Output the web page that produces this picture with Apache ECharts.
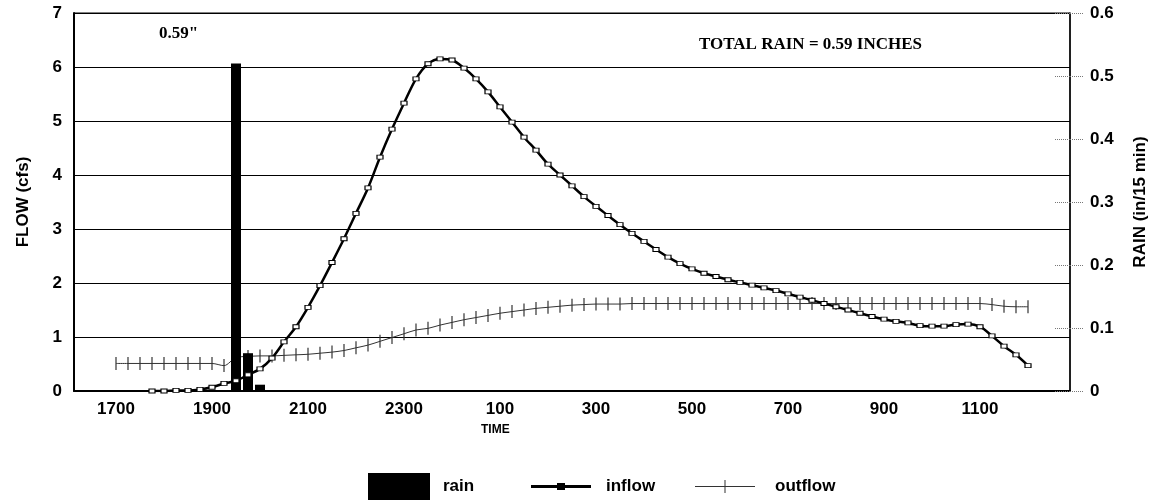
<!DOCTYPE html>
<html>
<head>
<meta charset="utf-8">
<script src="https://cdn.jsdelivr.net/npm/echarts@6/dist/echarts.min.js"></script>
<style>
  html, body { margin: 0; padding: 0; background: #fff; }
  #chart { width: 1162px; height: 503px; }
</style>
</head>
<body>
<div id="chart"></div>
<script>
// 15-minute time steps, 16:15 through 12:45 next day
var categories = [];
for (var i = 0; i < 83; i++) {
  var mins = (16 * 60 + 15 + i * 15) % (24 * 60);
  categories.push(String(Math.floor(mins / 60) * 100 + mins % 60));
}

var rainTimes = ['1930', '1945', '2000'];
var rainValues = [0.52, 0.06, 0.01];

// inflow starts at 17:45
var inflowStart = '1745';
var inflowValues = [
  0.00, 0.00, 0.01, 0.01, 0.03, 0.07, 0.14, 0.19, 0.30, 0.41,
  0.61, 0.91, 1.19, 1.55, 1.95, 2.38, 2.82, 3.29, 3.76, 4.33,
  4.85, 5.33, 5.78, 6.06, 6.15, 6.13, 5.98, 5.78, 5.54, 5.26,
  4.98, 4.70, 4.46, 4.20, 4.00, 3.80, 3.60, 3.42, 3.25, 3.08,
  2.92, 2.77, 2.62, 2.48, 2.36, 2.26, 2.18, 2.12, 2.06, 2.01,
  1.96, 1.91, 1.86, 1.80, 1.74, 1.68, 1.62, 1.56, 1.50, 1.44,
  1.38, 1.33, 1.29, 1.26, 1.21, 1.20, 1.20, 1.23, 1.24, 1.19,
  1.02, 0.83, 0.67, 0.47
];

// outflow starts at 17:00
var outflowStart = '1700';
var outflowValues = [
  0.51, 0.51, 0.51, 0.51, 0.51, 0.51, 0.51, 0.51, 0.51, 0.47,
  0.62, 0.64, 0.65, 0.65, 0.66, 0.67, 0.68, 0.70, 0.72, 0.75,
  0.80, 0.85, 0.92, 0.99, 1.06, 1.13, 1.16, 1.22, 1.27, 1.32,
  1.36, 1.40, 1.44, 1.47, 1.50, 1.53, 1.55, 1.57, 1.59, 1.60,
  1.61, 1.61, 1.61, 1.62, 1.62, 1.62, 1.62, 1.62, 1.62, 1.62,
  1.62, 1.62, 1.62, 1.62, 1.62, 1.62, 1.62, 1.62, 1.62, 1.62,
  1.62, 1.62, 1.62, 1.62, 1.62, 1.62, 1.62, 1.62, 1.62, 1.62,
  1.62, 1.62, 1.62, 1.60, 1.57, 1.56, 1.56
];

var flowTicks = [0, 1, 2, 3, 4, 5, 6, 7];
var rainTicks = [0, 0.1, 0.2, 0.3, 0.4, 0.5, 0.6];

function pairs(start, values) {
  var k = categories.indexOf(start);
  return values.map(function (v, j) { return [categories[k + j], v]; });
}

var sans = '"Liberation Sans", Arial, sans-serif';
var serif = '"Liberation Serif", "Times New Roman", serif';
var legendText = { fontFamily: sans, fontWeight: 'bold', fontSize: 17, color: '#000' };
var dottedTick = { color: '#777', type: 'dotted', width: 1 };

var chart = echarts.init(document.getElementById('chart'), null, { renderer: 'canvas' });

var option = {
  backgroundColor: '#ffffff',
  animation: false,
  grid: {
    left: 74, right: 92, top: 13, bottom: 112,
    show: true, borderColor: '#000', borderWidth: 1, backgroundColor: 'transparent'
  },
  legend: [{
    data: [{ name: 'rain', icon: 'rect' }],
    left: 363, top: 468,
    itemWidth: 62, itemHeight: 27,
    itemStyle: { color: '#000' },
    textStyle: Object.assign({ padding: [0, 0, 0, 8] }, legendText)
  }, {
    data: [{ name: 'inflow', icon: 'path://M0,2 L26,2 L26,0 L34,0 L34,2 L60,2 L60,5 L34,5 L34,7 L26,7 L26,5 L0,5 Z' }],
    left: 526, top: 473,
    itemWidth: 60, itemHeight: 7,
    itemStyle: { color: '#000', borderWidth: 0 },
    textStyle: Object.assign({ padding: [0, 0, 0, 10] }, legendText)
  }, {
    data: [{ name: 'outflow', icon: 'path://M0,6 L29.5,6 L29.5,0 L30.5,0 L30.5,6 L60,6 L60,7 L30.5,7 L30.5,13 L29.5,13 L29.5,7 L0,7 Z' }],
    left: 690, top: 473,
    itemWidth: 60, itemHeight: 13,
    itemStyle: { color: '#333', borderWidth: 0 },
    textStyle: Object.assign({ padding: [0, 0, 0, 15] }, legendText)
  }],
  xAxis: {
    type: 'category',
    data: categories,
    boundaryGap: true,
    axisLine: { lineStyle: { color: '#000', width: 2 } },
    axisTick: { show: false },
    axisLabel: {
      interval: function (idx, val) {
        var n = Number(val);
        return n % 100 === 0 && Math.floor(n / 100) % 2 === 1;
      },
      margin: 10,
      fontFamily: sans, fontWeight: 'bold', fontSize: 17, color: '#000'
    },
    splitLine: { show: false }
  },
  yAxis: [{
    type: 'value',
    min: 0, max: 7, interval: 1,
    name: 'FLOW (cfs)',
    nameLocation: 'middle', nameGap: 42,
    nameTextStyle: { fontFamily: sans, fontWeight: 'bold', fontSize: 17, color: '#000' },
    axisLine: { show: true, lineStyle: { color: '#000', width: 2 } },
    axisTick: { show: false },
    axisLabel: {
      margin: 12,
      fontFamily: sans, fontWeight: 'bold', fontSize: 17, color: '#000',
      formatter: function (v) { return flowTicks.indexOf(v) >= 0 ? String(v) : ''; }
    },
    splitLine: { show: true, lineStyle: { color: '#000', width: 1 } }
  }, {
    type: 'value',
    position: 'right',
    min: 0, max: 0.6, interval: 0.1,
    name: 'RAIN (in/15 min)',
    nameLocation: 'middle', nameGap: 62,
    nameTextStyle: { fontFamily: sans, fontWeight: 'bold', fontSize: 17, color: '#000' },
    axisLine: { show: true, lineStyle: { color: '#000', width: 1.5 } },
    axisTick: { show: true, length: 13, lineStyle: dottedTick },
    axisLabel: {
      margin: 20,
      fontFamily: sans, fontWeight: 'bold', fontSize: 17, color: '#000',
      formatter: function (v) {
        var r = Math.round(v * 10) / 10;
        return rainTicks.indexOf(r) >= 0 ? String(r) : '';
      }
    },
    splitLine: { show: false }
  }, {
    // inner half of the dotted rain ticks
    type: 'value',
    position: 'right',
    min: 0, max: 0.6, interval: 0.1,
    axisLine: { show: false },
    axisTick: { show: true, inside: true, length: 15, lineStyle: dottedTick },
    axisLabel: { show: false },
    splitLine: { show: false }
  }],
  series: [{
    name: 'outflow',
    type: 'line',
    z: 2,
    data: pairs(outflowStart, outflowValues),
    smooth: 0.3,
    showAllSymbol: true,
    symbol: 'rect',
    symbolSize: [1.2, 13],
    lineStyle: { color: '#333', width: 1 },
    itemStyle: { color: '#333' }
  }, {
    name: 'rain',
    type: 'bar',
    yAxisIndex: 1,
    z: 3,
    barWidth: 10,
    data: rainTimes.map(function (t, j) { return [t, rainValues[j]]; }),
    itemStyle: { color: '#000' }
  }, {
    name: 'inflow',
    type: 'line',
    z: 4,
    data: pairs(inflowStart, inflowValues),
    smooth: 0.3,
    showAllSymbol: true,
    symbol: 'rect',
    symbolSize: [6, 4],
    lineStyle: { color: '#000', width: 2.5 },
    itemStyle: { color: '#fff', borderColor: '#000', borderWidth: 1 }
  }],
  graphic: [{
    type: 'text', left: 159, top: 25,
    style: { text: '0.59"', font: 'bold 17px ' + serif, fill: '#000' }
  }, {
    type: 'text', right: 1162 - 922, top: 36,
    style: { text: 'TOTAL RAIN = 0.59 INCHES', font: 'bold 17px ' + serif, fill: '#000' }
  }, {
    type: 'text', left: 481, top: 424,
    style: { text: 'TIME', font: 'bold 12px ' + sans, fill: '#000' }
  }]
};

chart.setOption(option);
</script>
</body>
</html>
